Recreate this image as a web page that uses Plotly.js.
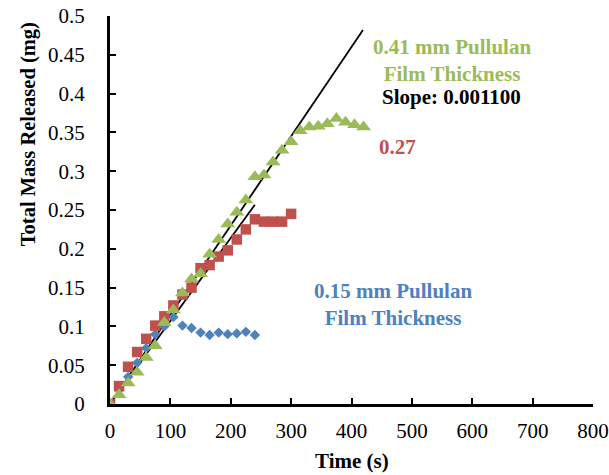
<!DOCTYPE html>
<html>
<head>
<meta charset="utf-8">
<script src="https://cdn.plot.ly/plotly-3.0.1.min.js"></script>
<style>html,body{margin:0;padding:0;background:#fff;}#chart{width:609px;height:475px;}</style>
</head>
<body>
<div id="chart"></div>
<script>
// Data (time in s, mass in mg)
const blueTime = [0,15,30,45,60,75,90,105,120,135,150,165,180,195,210,225,240];
const blueMass = [0,0.018,0.035,0.053,0.072,0.090,0.100,0.112,0.101,0.098,0.092,0.089,0.092,0.090,0.091,0.093,0.089];

const redTime = [0,15,30,45,60,75,90,105,120,135,150,165,180,195,210,225,240,255,270,285,300];
const redMass = [0,0.023,0.048,0.067,0.084,0.101,0.113,0.127,0.141,0.150,0.175,0.179,0.190,0.198,0.212,0.225,0.238,0.235,0.235,0.235,0.245];

const greenTime = [0,15,30,45,60,75,90,105,120,135,150,165,180,195,210,225,240,255,270,285,300,315,330,345,360,375,390,405,420];
const greenMass = [0,0.012,0.027,0.041,0.060,0.075,0.105,0.121,0.143,0.161,0.168,0.193,0.212,0.232,0.247,0.263,0.293,0.295,0.312,0.327,0.338,0.352,0.357,0.358,0.361,0.368,0.363,0.360,0.357];

// Linear trend lines
const greenTrendX = [0, 419];
const greenSlope = 0.00115, greenIntercept = 0;
const redTrendX = [0, 240];
const redSlope = 0.00107, redIntercept = 0;

const xTickVals = [0,100,200,300,400,500,600,700,800];
const xTickText = ['0','100','200','300','400','500','600','700','800'];
const yTickVals = [0,0.05,0.1,0.15,0.2,0.25,0.3,0.35,0.4,0.45,0.5];
const yTickText = ['0','0.05','0.1','0.15','0.2','0.25','0.3','0.35','0.4','0.45','0.5'];

const SERIF = '"Liberation Serif", "Times New Roman", serif';
const BLUE = '#4F81BD', RED = '#C0504D', GREEN = '#9BBB59';

const traces = [
  {x: greenTrendX, y: greenTrendX.map(v => greenSlope*v + greenIntercept), mode:'lines',
   line:{color:'#000', width:1.8}, hoverinfo:'skip', showlegend:false},
  {x: redTrendX, y: redTrendX.map(v => redSlope*v + redIntercept), mode:'lines',
   line:{color:'#000', width:1.8}, hoverinfo:'skip', showlegend:false},
  {x: blueTime, y: blueMass, mode:'markers', type:'scatter',
   marker:{symbol:'diamond', size:8, color:BLUE}, showlegend:false},
  {x: redTime, y: redMass, mode:'markers', type:'scatter',
   marker:{symbol:'square', size:10.5, color:RED}, showlegend:false},
  {x: greenTime, y: greenMass, mode:'markers', type:'scatter',
   marker:{symbol:'triangle-up', size:13, color:GREEN}, showlegend:false}
];

const layout = {
  width:609, height:475,
  margin:{l:110, r:16, t:16, b:71},
  paper_bgcolor:'#fff', plot_bgcolor:'#fff',
  font:{family:SERIF, color:'#000', size:20},
  xaxis:{range:[0,800], tickvals:xTickVals, ticktext:xTickText, showgrid:false, zeroline:false,
    showline:true, linecolor:'#000', linewidth:3, ticks:'inside', ticklen:6, tickwidth:2, tickcolor:'#000',
    tickfont:{family:SERIF, size:21, color:'#000'}, ticklabelstandoff:6, mirror:false},
  yaxis:{range:[0,0.5], tickvals:yTickVals, ticktext:yTickText, showgrid:false, zeroline:false,
    showline:true, linecolor:'#000', linewidth:3, ticks:'inside', ticklen:6, tickwidth:2, tickcolor:'#000',
    tickfont:{family:SERIF, size:21, color:'#000'}, ticklabelstandoff:18},
  annotations:[
    {xref:'paper', yref:'paper', x:0.5, y:-0.148, yanchor:'middle', xanchor:'center', showarrow:false,
     text:'<b>Time (s)</b>', font:{family:SERIF, size:21, color:'#000'}},
    {xref:'paper', yref:'paper', x:-0.17, y:0.695, xanchor:'center', yanchor:'middle', showarrow:false, textangle:-90,
     text:'<b>Total Mass Released (mg)</b>', font:{family:SERIF, size:20.5, color:'#000'}},
    {x:566, y:0.443, showarrow:false, xanchor:'center', yanchor:'middle',
     text:'<b>0.41 mm Pullulan<br>Film Thickness</b>', font:{family:SERIF, size:21, color:GREEN}},
    {x:566, y:0.396, showarrow:false, xanchor:'center', yanchor:'middle',
     text:'<b>Slope: 0.001100</b>', font:{family:SERIF, size:21, color:'#000'}},
    {x:477, y:0.331, showarrow:false, xanchor:'center', yanchor:'middle',
     text:'<b>0.27</b>', font:{family:SERIF, size:21, color:RED}},
    {x:468.5, y:0.1276, showarrow:false, xanchor:'center', yanchor:'middle',
     text:'<b>0.15 mm Pullulan<br>Film Thickness</b>', font:{family:SERIF, size:21, color:BLUE}}
  ]
};

Plotly.newPlot('chart', traces, layout, {displayModeBar:false, staticPlot:true});
</script>
</body>
</html>
